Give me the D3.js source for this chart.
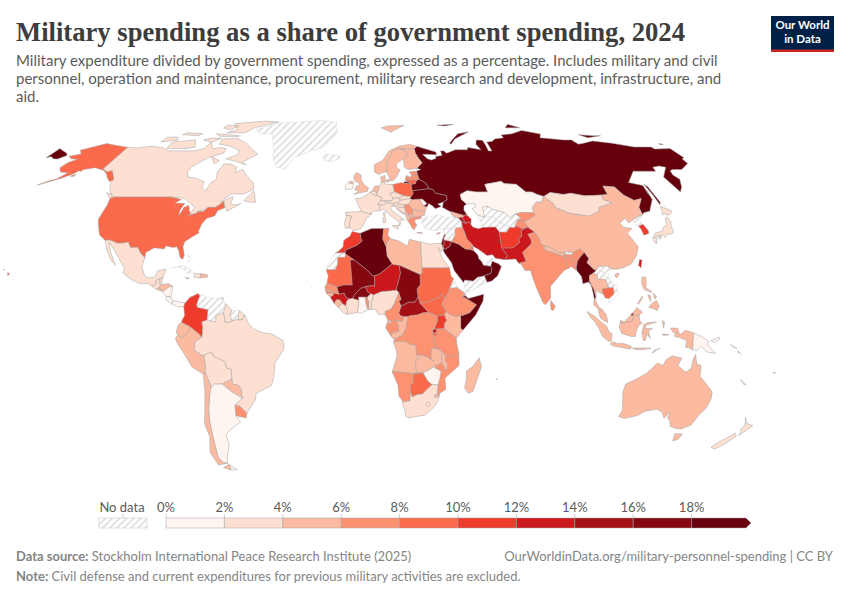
<!DOCTYPE html>
<html>
<head>
<meta charset="utf-8">
<script src="https://cdn.jsdelivr.net/npm/d3@7"></script>
<style>
  body { margin: 0; background: #fff; }
  text { font-family: Lato, sans-serif; }
</style>
</head>
<body>
<svg id="chart" width="850" height="600"></svg>
<script>
const titleText = 'Military spending as a share of government spending, 2024';
const subtitleLines = [
  'Military expenditure divided by government spending, expressed as a percentage. Includes military and civil',
  'personnel, operation and maintenance, procurement, military research and development, infrastructure, and',
  'aid.'
];
const legendStops = [0, 2, 4, 6, 8, 10, 12, 14, 16, 18, 20];
const legendLabels = ['0%', '2%', '4%', '6%', '8%', '10%', '12%', '14%', '16%', '18%'];
const binColors = ['#fff5f0', '#fee0d2', '#fcbba1', '#fc9272', '#fb6a4a', '#ef3b2c', '#cb181d', '#a50f15', '#850811', '#67000d'];

// estimated from the colour bins of the picture, null is "No data"
const countryNames = ['Russia','Kazakhstan','Uzbekistan','Turkmenistan','Kyrgyzstan','Tajikistan','Afghanistan','Pakistan','India','Bangladesh','Nepal','Bhutan','China','Mongolia','North Korea','South Korea','Japan','Taiwan','Myanmar','Thailand','Laos','Vietnam','Cambodia','Malaysia','Brunei','Indonesia','Timor','Philippines','Sri Lanka','Papua New Guinea','Australia','New Zealand','New Caledonia','Fiji','Solomon Islands',
  'Morocco','Western Sahara','Algeria','Mauritania','Mali','Niger','Tunisia','Libya','Egypt','Sudan','Chad','Central African Republic','South Sudan','Ethiopia','Eritrea','Djibouti','Somalia','Kenya','Uganda','Tanzania','Rwanda','Burundi','DR Congo','Congo','Gabon','Equatorial Guinea','Cameroon','Nigeria','Benin','Togo','Ghana','Burkina Faso','Ivory Coast','Liberia','Sierra Leone','Guinea','Guinea-Bissau','Senegal','Gambia','Angola','Zambia','Malawi','Mozambique','Zimbabwe','Namibia','Botswana','South Africa','Lesotho','Eswatini','Madagascar','Cape Verde','Mauritius',
  'Saudi Arabia','Yemen','Oman','UAE','Qatar','Kuwait','Iraq','Syria','Jordan','Israel','Lebanon','Iran','Turkey','Georgia','Armenia','Azerbaijan','Cyprus',
  'Norway','Sweden','Finland','Denmark','United Kingdom','Ireland','Iceland','France','Spain','Portugal','Belgium','Netherlands','Germany','Switzerland','Austria','Italy','Poland','Czechia','Slovakia','Hungary','Slovenia','Croatia','Bosnia','Serbia','Montenegro','Albania','North Macedonia','Greece','Bulgaria','Romania','Moldova','Ukraine','Belarus','Lithuania','Latvia','Estonia',
  'Canada','United States','Mexico','Guatemala','Belize','El Salvador','Honduras','Nicaragua','Costa Rica','Panama','Cuba','Jamaica','Haiti','Dominican Republic','Bahamas','Trinidad',
  'Colombia','Ecuador','Peru','Bolivia','Paraguay','Argentina','Chile','Uruguay','Brazil','Venezuela','Guyana','Suriname','Greenland'];
const militaryShare = [40,1.5,null,null,7,6,11,13,7,7,5,null,5,3,null,11,3,13,25,5,null,null,9,5,15,5,1,5,7,1.5,5,3,3,1,1,
  11,null,22,9,17,13,7,5,3,9,17,15,9,7,null,5,25,5,11,7,13,9,7,5,7,5,7,3,3,7,1,17,3,3,5,13,5,7,5,5,5,5,7,1,7,9,3,3,5,5,null,1,
  25,null,25,null,null,9,7,null,15,17,15,13,null,5,15,13,5,
  5,5,5,5,5,1,null,3,3,3,3,5,3,3,3,3,9,3,3,3,3,3,3,7,5,5,5,7,5,5,1,40,40,9,7,7,
  3,9,3,3,3,5,5,1,1,1,null,5,3,5,null,1,
  11,5,5,3,5,1,5,7,3,null,3,null,null];

// hand traced country outlines, "lon lat" pairs, one string per ring
const outlines = {
  'Russia': ['31 70,33 69.5,41 67.5,41 66.3,35 66.5,33 66.5,35 64.5,37 64,40 64.7,40 65.5,44 66,44 68,46 68,47 67,53 68.5,60 68.5,61 69.5,68 68.5,67 71,69 73,72.5 72.8,72.5 71,72 68,74 68,74.5 72,78 72.3,81 73.5,87 74,87 75.3,95 76,104 77.7,113 75.8,110 74,113 73.8,123 73,128 73,129 71,133 71.5,140 72.5,150 71.5,160 69.7,170 69.7,170.5 68.8,179.9 69,179.9 65,178 64.5,177.5 62.5,170 60,165 60,163 59.5,162 57.8,163 56,160 53,157 51,156 57,163 61,160 61.5,156 61,155 59.3,143 59.3,135 54.7,141 53.5,140 50,141 52,140 48,135 43.5,132 43,130.7 42.3,131 45,135 48.4,131 47.7,127.5 49.8,126 53,120.5 53.3,119.8 50,116.7 49.8,113 49.6,108 49.5,102 50.5,98 50,92 50.8,87.8 49.2,85 50,83 51,80 51,77 54,71 54.3,70 55.2,61 54,61 51,55 51,51 51.5,47 50,47 48,49 46.3,47.5 45.5,47 44,48 42,46 42,40 43.5,37 45,38 47.1,40 48,40 49.6,35 50.5,34 52,31.5 52.3,32 53,31 54.5,28 56,27.7 57.5,27.5 59.4,30 60,28 60.5,31.5 62.8,30 65,29 67,29 69',
    '-179.9 65,-178 65.5,-175 64.5,-172.5 64.4,-170 66,-172 67,-176 68,-179.9 69','20 55,22.8 55,22.8 54.4,19.8 54.4','52 71,56 73.5,68 77,60 76,54 73,51.5 71.5','50 80.5,62 81,55 80','95 79,105 79,100 81','137 75.5,145 75,150 75,140 74','178 71.3,179.9 71,179.9 70.9,178 70.9','142 54,143 53,143 47,142 46,142 50'],
  'Kazakhstan': ['49 46.3,47 48,47 50,51 51.5,55 51,61 51,61 54,70 55.2,71 54.3,77 54,80 51,83 51,85 50,87.8 49.2,85.5 47,83 47,80 45,80 42.9,74 43,71 42.5,68 41,66 43,61 44.2,58.5 45.5,56 45,56 41.3,53 42,52.5 42.8,51 44.5,53 45.2,53 46.5'],
  'Uzbekistan': ['56 45,58.5 45.5,61 44.2,66 43,68 41,71 42.5,73 40.8,71 40.2,68.5 37.2,66.5 37.4,62 39.5,60 41.5,57 41.3,56 41.3'],
  'Turkmenistan': ['53 42,56 41.3,57 41.3,60 41.5,62 39.5,66.5 37.4,64.5 35.5,61.2 35.6,60 37.5,54 37.3,53.8 39.5,53 40'],
  'Kyrgyzstan': ['80 42.9,74 43,71 42.5,73 40.8,71 40.2,73.8 39.5,76.5 40.4,80 42'],
  'Tajikistan': ['68.5 37.2,71 40.2,73.8 39.5,75 38,74.9 37.4,72 36.9,70 37.8'],
  'Afghanistan': ['61.2 35.6,64.5 35.5,66.5 37.4,68.5 37.2,70 37.8,72 36.9,74.9 37.4,71.5 36.3,71 34,69.3 33,69.5 31.7,66.5 29.9,66 29.5,61 29.5,60.9 31.5'],
  'Pakistan': ['74.9 37.4,71.5 36.3,71 34,69.3 33,69.5 31.7,66.5 29.9,66 29.5,61 29.5,63 26.6,61.6 25.1,66.5 25.4,67.5 23.8,71 24.4,70 27.9,74.5 31,75 32.5,74 34.7,77.5 35.5'],
  'India': ['77.5 35.5,74 34.7,75 32.5,74.5 31,70 27.9,71 24.4,67.5 23.8,68.5 23.5,70 21,72.5 21,72.8 19,74 15,76.5 9,77.5 8,80 10.5,80.3 15,82.5 17,87 21,89 21.8,88.3 24.5,88.3 26,89.8 26,92.3 25,91.3 23.5,92.3 23,92.6 22,93.5 24.5,95 26,97.3 27.8,96 29.3,92 27.8,92 27,89 27,88.2 27.9,88.1 26.4,80 28.8,80.3 30.3,78.7 31.2,79 32.5'],
  'Bangladesh': ['89 21.8,88.3 24.5,88.3 26,89.8 26,92.3 25,91.3 23.5,92.3 23,92.6 22,92 21.2,90.5 22.5'],
  'Nepal': ['80 28.8,88.1 26.4,88.2 27.9,86 28,81.5 30.3,80.3 30.3'],
  'Bhutan': ['89 27,92 27,92 27.8,90 28.2,89 27.8'],
  'China': ['130.7 42.3,131 45,135 48.4,131 47.7,127.5 49.8,126 53,120.5 53.3,119.8 50,116.7 49.8,116 48,119.5 46.8,112 45,111 43.5,105 41.7,97 42.7,91 45,91 46.5,87.8 49.2,85.5 47,83 47,80 45,80 42.9,80 42,76.5 40.4,73.8 39.5,75 38,74.9 37.4,77.5 35.5,79 32.5,78.7 31.2,80.3 30.3,81.5 30.3,86 28,88.2 27.9,89 27.8,90 28.2,92 27.8,96 29.3,97.3 27.8,98.7 25.5,97.5 24,100 21.5,101 21,102.2 22.4,106 22.8,108 21.6,110 21.5,113 22,117 23.5,120 26.5,122 30,120.5 33,119.3 35,122.5 37,119 37.3,118 39,121.5 40.8,122 39,124.3 40,128 41.5',
    '108.7 19.3,110.5 20.1,110.9 19.6,109.5 18.2'],
  'Mongolia': ['87.8 49.2,92 50.8,98 50,102 50.5,108 49.5,113 49.6,116.7 49.8,116 48,119.5 46.8,112 45,111 43.5,105 41.7,97 42.7,91 45,91 46.5'],
  'North Korea': ['130.7 42.3,128 41.5,124.3 40,125 38.5,126 37.8,128.4 38.5,127.5 39.8,129.7 41'],
  'South Korea': ['126 37.8,128.4 38.5,129.5 36,129 35,126.5 34.4,126.5 36.5'],
  'Japan': ['130.9 34,132 35.2,136 36,137 37.3,139.5 38.5,140 40.5,141.4 41.4,142 39.5,141 38,140.8 35.8,139.8 35,137 34.6,135.8 33.5,135 34.5,131 33.9','140 42,141.7 45.4,145 44,145.5 43.3,143 42,141 42.5','130 33.5,131.8 33.5,131 31.3,130.2 31.3','132.5 33.8,134.5 34.2,134 33.4,133 32.8'],
  'Taiwan': ['121 25.2,122 25,120.9 22,120.1 23'],
  'Myanmar': ['92.6 22,93.5 24.5,95 26,97.3 27.8,98.7 25.5,97.5 24,100 21.5,101 21,100 20.3,97.8 19,97.5 17,99 14,99.6 11,98.7 10,98.6 12,98 15.5,97 16.7,94.5 16,94.3 18.7,92.6 21'],
  'Thailand': ['100 20.3,100.5 19.5,101.2 19.5,101 17.5,102.5 17.9,104.7 17.4,105.5 14.5,102.5 14,102.9 12,101 12.7,100.5 13.5,100 13.5,99.3 9.5,100.5 7.3,102 6.2,101 5.6,100.2 6.5,98.3 8,98.7 10,99.6 11,99 14,97.5 17,97.8 19'],
  'Laos': ['101 21,102.2 22.4,103 21,104.5 20.4,104 19.2,106 17.5,107.5 15.5,107.5 14.5,105.5 14.5,104.7 17.4,102.5 17.9,101 17.5,101.2 19.5,100.5 19.5,100 20.3'],
  'Vietnam': ['102.2 22.4,106 22.8,108 21.6,105.8 19,107 17,109 15,109.3 12,107 10.5,105 8.7,105 10.4,106 11,107.5 12.3,107.5 14.5,107.5 15.5,106 17.5,104 19.2,104.5 20.4,103 21'],
  'Cambodia': ['102.5 14,105.5 14.5,107.5 14.5,107.5 12.3,106 11,105 10.4,103.5 10.6,102.9 12'],
  'Malaysia': ['100.2 6.5,101 5.6,102 6.2,103.4 4.5,104.2 1.5,103.4 1.4,101 3,100.3 5.5','109.6 2,111.2 1.6,113 3.2,114.5 4.6,115.2 5,116.8 7,119.2 5.2,117.7 4.2,115.5 4,114.5 1.7,112.5 1.5,110 0.9'],
  'Brunei': ['114.2 4.5,115.2 5,115 4,114.3 4'],
  'Indonesia': ['95.3 5.5,98 4,100 2.5,103.5 0,104.5 -2,106 -3,105.8 -5.8,104.5 -5.8,102 -4,100.3 -1,98.5 1.7,97 3','105.3 -6.8,106.5 -6,108.5 -6.7,110.8 -6.5,114.5 -7.7,114.5 -8.7,110.5 -8.2,106.5 -7.5','109.6 2,110 0.9,112.5 1.5,114.5 1.7,115.5 4,117.7 4.2,117.8 2,119 1,117.5 0.5,116.5 -1.5,116 -4,114.5 -4,111.7 -3.3,110.2 -2.9,109 -0.5','119.5 0.5,121 1.2,125 1.5,120.5 0.3,120 -0.8,121.5 -0.9,123.3 -0.9,121.5 -2,122.5 -4.7,121 -3,120.3 -5.5,119.5 -5.5,118.8 -2.7','115 -8.4,116.5 -8.3,119 -8.3,123 -8.4,120 -8.9,116.5 -8.9','123.6 -10.3,124.9 -9,125 -9.5','127.5 -3,130.5 -3.3,128 -3.6','127.5 2,128.5 1.5,128 -0.8,127.8 0.5','131 -0.8,134 -0.8,135 -3.3,137.5 -1.6,141 -2.6,141 -9.1,139 -8,138 -8.3,138 -5.5,135 -4.4,133 -4,132.8 -2.9,134 -2.5,132 -2.3'],
  'Timor': ['124.9 -9,127 -8.4,125 -9.5'],
  'Philippines': ['120.5 18.5,122.2 18.5,122 16,121.5 14.5,124 13,123.5 12.8,120.7 13.8,120 16','122 7,123.5 8.6,125.5 9.7,126.5 7.5,125.5 5.8,124 6.5','124.5 12.5,125.7 11,125 10.2,124.5 11','122 11.8,123.2 11.5,123 9.2,122.5 10','117.3 8.5,119.5 11.3,119.5 10.5,117.7 8.3'],
  'Sri Lanka': ['80 9.7,81.8 7.5,81 6,80 6.2,79.8 8'],
  'Papua New Guinea': ['141 -2.6,145 -4.3,147.8 -6,147 -6.8,150.8 -10.3,147 -9.8,144.5 -7.7,143 -9.2,141 -9.1','148.5 -5.6,152 -4.2,152.2 -5,150 -6.2'],
  'Australia': ['114.2 -22,113.6 -25,114.6 -28.5,115.7 -32,115 -34.3,118 -35,123.5 -33.9,126 -32.3,131 -31.5,134 -32.7,135.8 -34.8,137.8 -32.7,137.5 -35,139 -35.7,140.6 -38,143.5 -38.8,146.4 -39,150 -37.5,151 -34,153 -31,153.5 -27.5,153 -25,149.5 -22,146 -19,145.5 -15,143.5 -14.3,142.5 -10.8,141.6 -13,141.5 -16,139.5 -17.5,135.5 -15,136.8 -12.2,132.5 -11.3,130 -12.8,129 -15,126.5 -14,124 -16.5,122.3 -18,118 -20.3','144.7 -40.7,148.3 -40.9,148 -43,146 -43.6'],
  'New Zealand': ['172.7 -34.5,175.3 -37,178.5 -37.7,177 -39.5,175.3 -41.6,175 -40,174 -39,174.8 -37.5','172.7 -40.5,174.3 -41.7,172.8 -43.7,171 -45.5,169 -46.7,166.5 -46,168.3 -44,171.2 -42'],
  'New Caledonia': ['164 -20.2,167 -22.3,166 -22.2'],
  'Fiji': ['177.3 -17.5,178.6 -17.6,178 -18.2'],
  'Solomon Islands': ['157 -7,160 -8.5,159 -8.3','160.5 -9.3,162 -10.5,160.5 -9.9'],

  'Morocco': ['-5.9 35.8,-6.8 34,-9.5 32.5,-9.8 30,-11.5 28.5,-13 27.7,-8.7 27.7,-8.7 28.7,-3.7 30.5,-1.2 32.2,-1.7 33,-2.2 35.1'],
  'Western Sahara': ['-13 27.7,-8.7 27.7,-8.7 26,-12 26,-12 23.4,-13 21.3,-17 21.3,-16 23.7,-14.5 26'],
  'Algeria': ['-2.2 35.1,3 36.9,8.6 36.9,8 33,9.5 30,9.8 26.5,12 23.5,6 19.5,4.2 19,3.2 19,1.2 21,-4.8 25,-8.7 27.3,-8.7 28.7,-3.7 30.5,-1.2 32.2,-1.7 33'],
  'Mauritania': ['-17 21.3,-13 21.3,-12 23.4,-12 26,-8.7 26,-8.7 27.3,-4.8 25,-6.5 25,-5.5 15.5,-9.3 15.5,-12.2 14.8,-16.5 16.2,-16 19'],
  'Mali': ['-6.5 25,-4.8 25,1.2 21,3.2 19,4.2 19,4.2 15,3.5 15.3,0.2 14.9,-2 14.2,-4.4 12,-5.3 10.4,-7 10.2,-8.3 11,-9 12.4,-11.3 12,-12.2 14.8,-9.3 15.5,-5.5 15.5'],
  'Niger': ['4.2 19,6 19.5,12 23.5,15 23,15.5 20,13.6 14,13.6 13.5,10 13.2,7 13,3.7 11.7,2.4 12.2,1 13,0.2 14.9,3.5 15.3,4.2 15'],
  'Tunisia': ['8.6 36.9,11 37,10.3 34.5,11.5 33.1,10 32,9.5 30,8 33'],
  'Libya': ['9.5 30,10 32,11.5 33.1,15 32.3,19 30.3,20 32.8,25 31.8,25 22,25 20,24 19.5,15 23,12 23.5,9.8 26.5'],
  'Egypt': ['25 31.8,29 31,32 31.2,34.3 31.3,34.9 29.5,34 28,32.6 29.9,34 26,37 22,25 22'],
  'Sudan': ['25 22,37 22,37.5 18.8,38.5 18,36.6 14.3,36 12.5,34.2 10.5,33 12.2,32.3 11,28 9.4,26.5 9,23.6 8.7,22.9 11,22.5 14,24 15.7,24 19.5,25 20'],
  'Chad': ['15 23,24 19.5,24 15.7,22.5 14,22.9 11,21.5 9,18.7 9,15.5 7.5,14.5 9.5,15.5 10,14.5 12.8,13.6 13.5,13.6 14,15.5 20'],
  'Central African Republic': ['14.5 5,15.5 7.5,18.7 9,21.5 9,22.9 11,23.6 8.7,27.4 5.1,25 5,22.5 4.2,19 3.8,18.5 3.5,16.5 3.5,15 4'],
  'South Sudan': ['23.6 8.7,26.5 9,28 9.4,32.3 11,33 12.2,34.2 10.5,33 8,35 5.5,34 4.2,31 3.7,27.4 5.1'],
  'Ethiopia': ['36.6 14.3,39.8 14.5,43 12.5,43.3 11.5,42 11,43 10.8,48 8,45 5,42 4,41 3.9,39 3.4,36 4.5,35 5.5,33 8,34.2 10.5,36 12.5'],
  'Eritrea': ['38.5 18,39.5 15.5,43 12.5,39.8 14.5,36.6 14.3'],
  'Djibouti': ['43 12.5,43.3 11.5,42 11'],
  'Somalia': ['43.3 11.5,44.5 10.4,51.2 12,50.8 9.5,47.5 4.2,42 -1.6,41 -0.9,41 3.9,42 4,45 5,48 8,43 10.8,42 11'],
  'Kenya': ['34 4.2,35 5.5,36 4.5,39 3.4,41 3.9,41 -0.9,42 -1.6,39.2 -4.7,37.7 -3.5,33.9 -1,34 1,35 2'],
  'Uganda': ['31 3.7,34 4.2,35 2,34 1,33.9 -1,30.5 -1.1,29.6 -1.3,31 1.8'],
  'Tanzania': ['33.9 -1,37.7 -3.5,39.2 -4.7,39.5 -7,40.4 -10.4,38 -11.3,34.9 -11.5,33 -9.5,31 -8.6,29.5 -6,29.5 -4.4,30.8 -3.3,30.8 -2.4,30.5 -1.1'],
  'Rwanda': ['29 -1.3,29.6 -1.3,30.5 -1.1,30.8 -2.4,29 -2.7'],
  'Burundi': ['29 -2.7,30.8 -2.4,30.8 -3.3,29.5 -4.4'],
  'DR Congo': ['27.4 5.1,31 3.7,31 1.8,29.6 -1.3,29 -1.3,29 -2.7,29.5 -4.4,29.5 -6,31 -8.6,29 -8.5,28.5 -9,28.5 -12,29.8 -13.4,27 -11.8,24 -11,22 -11,22 -9.5,21.8 -7.3,19.5 -7,17.5 -6,13 -5.9,12.2 -6,13 -4.7,16 -3.5,17.7 -0.5,18 2,18.5 3.5,19 3.8,22.5 4.2,25 5'],
  'Congo': ['11.2 -3.9,12.2 -5,13 -4.7,16 -3.5,17.7 -0.5,18 2,18.5 3.5,16.5 3.5,16 1.8,13.3 2.2,14 1.4,14.5 -2,11.7 -2.5'],
  'Gabon': ['9.5 1,11.3 1,11.3 2.2,13.3 2.2,14 1.4,14.5 -2,11.7 -2.5,11.2 -3.9,8.8 -0.7'],
  'Equatorial Guinea': ['9.8 2.3,11.3 2.2,11.3 1,9.5 1'],
  'Cameroon': ['8.5 4.5,9.8 2.3,11.3 2.2,13.3 2.2,16 1.8,16.5 3.5,15 4,14.5 5,15.5 7.5,14.5 9.5,15.5 10,14.5 12.8,14 11.5,12.5 8.5,11.3 6.5,8.8 5.7'],
  'Nigeria': ['2.7 6.3,4.5 6.3,5.5 4.6,6.5 4.3,8.5 4.5,8.8 5.7,11.3 6.5,12.5 8.5,14 11.5,14.5 12.8,13.6 13.5,10 13.2,7 13,3.7 11.7,2.8 9'],
  'Benin': ['1.6 6.2,2.7 6.3,2.8 9,3.7 11.7,2.4 12.2,0.9 10.9,1.6 9'],
  'Togo': ['1.2 6.1,1.6 6.2,1.6 9,0.9 10.9,0 11,0.5 8'],
  'Ghana': ['-3.1 5.1,-2 4.7,1.2 6.1,0.5 8,0 11,-2.8 11,-2.7 8,-3.2 6'],
  'Burkina Faso': ['0.2 14.9,1 13,2.4 12.2,0.9 10.9,0 11,-2.8 11,-2.8 9.7,-5.3 10.4,-4.4 12,-2 14.2'],
  'Ivory Coast': ['-7.5 4.4,-3.1 5.1,-3.2 6,-2.7 8,-2.8 9.7,-5.3 10.4,-7 10.2,-8 9.4,-8.3 7.7,-7.5 5.8'],
  'Liberia': ['-11.4 6.9,-9.3 5,-7.5 4.4,-7.5 5.8,-8.3 7.7,-9.5 8.4,-10.6 8.3'],
  'Sierra Leone': ['-13.2 8.5,-11.4 6.9,-10.6 8.3,-9.5 8.4,-11 10,-12.5 9.9'],
  'Guinea': ['-15 11,-13.2 8.5,-12.5 9.9,-11 10,-9.5 8.4,-8.3 7.7,-8 9.4,-7 10.2,-8.3 11,-9 12.4,-11.3 12,-13.7 12.6,-13.7 11.7'],
  'Guinea-Bissau': ['-16.7 12.3,-15 11,-13.7 11.7,-13.7 12.6'],
  'Senegal': ['-17.4 14.7,-16.7 12.3,-13.7 12.6,-11.3 12,-12.2 14.8,-16.5 16.2'],
  'Gambia': ['-16.8 13.6,-14 13.6,-14 13.2,-16.8 13.2'],
  'Angola': ['12.2 -6,13 -5.9,17.5 -6,19.5 -7,21.8 -7.3,22 -9.5,22 -11,24 -11,22 -13,22 -16.2,23.4 -17.6,20.8 -18,14.5 -17.4,11.8 -17.3,13.5 -12.5,13.8 -10.7,13 -8'],
  'Zambia': ['22 -13,24 -11,27 -11.8,29.8 -13.4,28.5 -12,28.5 -9,29 -8.5,31 -8.6,33 -9.5,33 -12,33.2 -14,30.2 -15.3,28 -16.5,25.2 -17.8,23.4 -17.6,22 -16.2'],
  'Malawi': ['33 -9.5,34.9 -11.5,34.5 -13,35.8 -14.5,35.8 -16,35 -17,34.4 -15.5,33.2 -14,33 -12'],
  'Mozambique': ['40.4 -10.4,40.7 -15,37 -18,34.9 -19.8,35.5 -24,33 -25.5,32.8 -26.8,32 -26,31.9 -25,32 -22.3,32.8 -19,33 -17,30.4 -16,30.2 -15.3,33.2 -14,34.4 -15.5,35 -17,35.8 -16,35.8 -14.5,34.5 -13,34.9 -11.5,38 -11.3'],
  'Zimbabwe': ['25.2 -17.8,28 -16.5,30.2 -15.3,30.4 -16,33 -17,32.8 -19,32 -22.3,29.4 -22.2,27.5 -21,25.7 -18.5'],
  'Namibia': ['11.8 -17.3,14.5 -17.4,20.8 -18,23.4 -17.6,25.2 -17.8,21 -18.3,21 -22,20 -22,20 -28.4,17 -28.8,15 -26.5,14.5 -22.5'],
  'Botswana': ['21 -18.3,25.2 -17.8,25.7 -18.5,27.5 -21,29.4 -22.2,26.5 -24.7,25.5 -25.7,22.8 -26,20.8 -26.9,20 -24.8,20 -22,21 -22'],
  'South Africa': ['17 -28.8,20 -28.4,20 -24.8,20.8 -26.9,22.8 -26,25.5 -25.7,26.5 -24.7,29.4 -22.2,32 -22.3,31.9 -25,32 -26,32.8 -26.8,32.5 -28.5,30.5 -31,27 -33.8,25 -34,20 -34.8,18.4 -34.2,18 -32,16.5 -29'],
  'Lesotho': ['27 -29.8,28.5 -28.7,29.3 -29.8,28 -30.7'],
  'Eswatini': ['30.8 -26,32 -26,32 -27,31 -27.2'],
  'Madagascar': ['49.3 -12,50.5 -15.5,47.5 -24.8,45.5 -25.5,43.7 -23.4,44.3 -20,44 -17,46.5 -15.5'],
  'Cape Verde': ['-25.3 17.1,-24.9 16.9,-25.2 16.8','-23.7 15.3,-23.4 15,-23.7 14.9'],
  'Mauritius': ['57.3 -20,57.8 -20,57.6 -20.5'],

  'Saudi Arabia': ['34.9 29.5,36 29.2,37.5 30,38 30.5,39 32,42 31,44.7 29.2,46.5 29.1,48.4 28.5,50 26.8,50.2 25.5,51.2 24.5,52 23,55.1 22.6,55.7 22,55 20,52 19,49 18.5,47 17,43.3 17.4,42.8 16.4,39 21,38 24,35 28'],
  'Yemen': ['42.8 16.4,43.3 17.4,47 17,49 18.5,52 19,53 16.6,45 12.9,43.5 12.7'],
  'Oman': ['52 19,55 20,55.7 22,55.1 22.6,56 24.5,58.6 23.6,59.8 22.5,57.8 19,55 17,53 16.6'],
  'UAE': ['51.2 24.5,52 23,55.1 22.6,56 24.5,56.3 26,54 24.2'],
  'Qatar': ['50.8 24.8,51.6 25,51.3 26.1,50.8 25.8'],
  'Kuwait': ['46.5 29.1,48.4 28.5,48 30,47.7 30.1'],
  'Iraq': ['42 37.2,44.8 37.2,45.5 35.5,46 33,48 31,48.6 30,48 30,47.7 30.1,46.5 29.1,44.7 29.2,42 31,39 32,41 34.5,41.2 36.5'],
  'Syria': ['36 36.8,42 37.2,41.2 36.5,41 34.5,39 32,36.5 32.4,35.6 32.7,35.7 33.3,36.5 34.5,36 34.6'],
  'Jordan': ['34.9 29.5,36 29.2,37.5 30,38 30.5,39 32,36.5 32.4,35.6 32.7,35.5 31.5'],
  'Israel': ['34.3 31.3,34.9 29.5,35.5 31.5,35.6 32.7,35.7 33.3,35.1 33.1'],
  'Lebanon': ['35.1 33.1,35.7 33.3,36.5 34.5,36 34.6'],
  'Iran': ['44.8 39.7,46.5 38.9,48 39.5,48.9 38.4,49.5 37.5,52 36.8,54 37.3,60 37.5,61.2 35.6,60.9 31.5,61 29.5,63 26.6,61.6 25.1,57.5 25.7,56.5 27,54 26.7,50.8 28.9,48.6 30,48 31,46 33,45.5 35.5,44.8 37.2'],
  'Turkey': ['26.2 39.5,27.3 37,29 36.5,32 36.1,36 36.8,42 37.2,44.8 37.2,44.8 39.7,43.6 41,41.5 41.5,38 41,35 42,33 42,30 41.2,27 40.5','26 40.7,26.3 41.7,28.1 42,29 41.2,26.5 40.3'],
  'Georgia': ['40 43.5,46 42,46.5 41.5,45.5 41.2,43.6 41,41.5 41.5'],
  'Armenia': ['43.6 41,45.5 41.2,46.5 38.9,44.8 39.7'],
  'Azerbaijan': ['45.5 41.2,46.5 41.5,46 42,48 42,49.5 40.5,48.9 38.4,48 39.5,46.5 38.9'],
  'Cyprus': ['32.3 35,34.5 35.6,33.5 34.7'],

  'Norway': ['5 61.5,5 59,7 58,10.5 59,11.5 59,12.3 61,12 63.5,14 65,16 68,20 69,25 68.7,29 69,31 70,27 71,20 70,14 68,10 64,5 62','11 79,16 80,27 80.3,20 78,17 76.7,14 78'],
  'Sweden': ['11.5 59,12.8 56.5,13 55.4,14.5 55.5,16.5 57,18.8 59.8,17 61,17.5 62.5,21.5 64.5,24 65.8,23.7 68,20 69,16 68,14 65,12 63.5,12.3 61'],
  'Finland': ['24 65.8,21.5 64.5,21.3 61,23 60,28 60.5,31.5 62.8,30 65,29 67,29 69,25 68.7,20 69,23.7 68'],
  'Denmark': ['8.2 57,10.5 57.6,10.5 55,9.5 54.8,8.5 54.8','11 55.7,12.5 56,12.3 54.9,11 55'],
  'United Kingdom': ['-5.5 50,-3 50.6,1.2 51.2,1.7 52.7,0 53.5,-1.5 55,-2 56,-2 57.6,-3.5 58.6,-5 58.6,-6 56.5,-4.8 55,-3 54.7,-3 53.3,-4.5 53.3,-5 51.8,-3 51.4','-8 54.3,-6 54.3,-5.6 54.7,-6.5 55.2,-7.3 55.2'],
  'Ireland': ['-10 52,-6.3 52.2,-6 53.5,-6 54.3,-8 54.3,-7.3 55.2,-8.5 55,-10 53.5'],
  'Iceland': ['-24 65.5,-22 66.4,-18 66.2,-14.5 66,-14 64.7,-18.5 63.4,-22.7 63.8'],
  'France': ['-1.8 43.4,-4.6 48.4,-1.5 48.7,1.5 50.2,2.5 51,4.2 50,6 49.5,8.2 49,7.6 47.5,6 46.2,7 45.9,7 44.2,7.5 43.8,4 43.5,3 43,3.2 42.4,0.7 42.8','8.6 42.9,9.5 43,9.4 41.5,8.9 41.5','-54 5.8,-51.6 4.2,-52.7 2.3,-54.5 2.3'],
  'Spain': ['-9.2 43.1,-1.8 43.4,0.7 42.8,3.2 42.4,0.5 40.5,-0.3 39,-2 36.8,-5.3 36.1,-6.4 37,-7.4 37.2,-7 39.6,-6.3 41.6,-8.8 41.9'],
  'Portugal': ['-8.8 41.9,-6.3 41.6,-7 39.6,-7.4 37.2,-9 37,-9.5 38.8'],
  'Belgium': ['2.5 51,4.2 51.4,6 50.8,6 49.5,4.2 50'],
  'Netherlands': ['3.5 51.4,4.2 51.4,6 50.8,7 52.2,7 53.3,5 53.3'],
  'Germany': ['6 50.8,7 52.2,7 53.3,8.5 54.8,9.5 54.8,11 54,14.2 53.9,14.7 51,12.2 50.3,13.8 48.7,13 47.5,9.6 47.5,7.6 47.5,8.2 49,6 49.5'],
  'Switzerland': ['7.6 47.5,9.6 47.5,10.4 46.8,9 45.9,7 45.9,6 46.2'],
  'Austria': ['9.6 47.5,13 47.5,13.8 48.7,17 48.7,17 47.7,16 46.8,13.7 46.5,10.4 46.8'],
  'Italy': ['7 45.9,9 45.9,10.4 46.8,13.7 46.5,13.6 45.6,12.3 45.3,12.5 44,16 41.8,18.4 40.1,17 40.5,16.5 39,16 38,15.8 39.5,12.5 41.5,10.5 43,8.8 44.4,7.5 43.8,7 44.2','12.5 38,15.6 38.2,15 36.7','8.3 40.9,9.7 41,9.5 39.2,8.5 39'],
  'Poland': ['14.2 53.9,18.5 54.7,19.8 54.4,22.8 54.4,23.5 54,23.6 51.5,24 50.5,22.6 49.1,19 49.5,14.7 51'],
  'Czechia': ['12.2 50.3,14.7 51,19 49.5,17 48.7,13.8 48.7'],
  'Slovakia': ['17 48.7,19 49.5,22.6 49.1,22.1 48.4,17 47.7'],
  'Hungary': ['17 47.7,22.1 48.4,22.9 48,21 46.2,18.8 45.9,16.5 46.3,16 46.8'],
  'Slovenia': ['13.7 46.5,16 46.8,16.5 46.3,15.3 45.5,13.6 45.6'],
  'Croatia': ['13.6 45.6,15.3 45.5,16.5 46.3,18.8 45.9,19 44.9,16 45.1,15.8 44.5,18.5 42.5,16 43.5,14.5 45.2'],
  'Bosnia': ['16 45.1,19 44.9,19.3 43.5,18.5 42.5,15.8 44.5'],
  'Serbia': ['19 44.9,18.8 45.9,21 46.2,22.7 44.3,22.5 42.3,20.5 42.2,20.5 42.6,19.3 43.5'],
  'Montenegro': ['18.5 42.5,19.3 43.5,20.5 42.6,19.3 41.9'],
  'Albania': ['19.3 41.9,20.5 42.6,20.5 42.2,21 40.8,20 39.7,19.3 40.5'],
  'North Macedonia': ['20.5 42.2,22.5 42.3,23 41.3,21 40.8'],
  'Greece': ['20 39.7,21 40.8,23 41.3,26.3 41.7,26 40.7,23.5 40.3,23 39.5,24 38,23 37.4,22.8 36.5,21.7 36.9,21 38.3','23.6 35.5,26.3 35.2,24.7 35'],
  'Bulgaria': ['22.7 44.3,25 43.7,28.6 43.7,28 42,26.3 41.7,23 41.3,22.5 42.3'],
  'Romania': ['21 46.2,22.9 48,26.6 48.2,28.2 45.5,29.7 45.2,28.6 43.7,25 43.7,22.7 44.3'],
  'Moldova': ['26.6 48.2,28 48.2,30 46.5,28.2 45.5'],
  'Ukraine': ['22.1 48.4,22.6 49.1,24 50.5,23.6 51.5,31.5 52.3,34 52,35 50.5,40 49.6,40 48,38 47.1,35 46.3,36.5 45.3,33.5 44.5,32.5 45.5,30.8 46.5,29.7 45.2,28.2 45.5,30 46.5,28 48.2,26.6 48.2,22.9 48'],
  'Belarus': ['23.6 51.5,31.5 52.3,32 53,31 54.5,28 56,26.6 55.7,25.7 54.3,23.5 54'],
  'Lithuania': ['21 55.3,21 56.2,26.6 55.7,25.7 54.3,23.5 54,22.8 54.4,22.8 55'],
  'Latvia': ['21 56.2,21.7 57.6,23.2 57,24.3 57.2,24.4 57.9,27.7 57.5,28 56,26.6 55.7'],
  'Estonia': ['23.5 59,27.5 59.4,27.7 57.5,24.4 57.9,24.3 58.3'],

  'Canada': ['-141 69.6,-135 69.3,-128 70,-120 69.5,-115 68,-108 68,-100 68,-95 69,-94 72,-90 69,-85 69.5,-82 69,-81.5 67,-87 65.5,-90 64,-94 61,-94.5 59,-92.5 57,-88 56.5,-82.5 55,-82.3 52.8,-79.5 51.3,-79 54.5,-77 56,-78.5 58.8,-77.5 62.4,-73 62.2,-69.5 61,-69 58.8,-65.5 60,-62 57.5,-57 54.5,-56 52,-60 50.2,-66.5 50.2,-70 47,-65 49.2,-64.5 48.5,-65 47,-64 46,-61 46,-60 46.5,-65.5 43.5,-66.5 45,-67.5 45.5,-68.5 47.3,-70 46,-71.5 45,-75 45,-76.5 44,-79.5 43.5,-79 42.9,-82.5 42.1,-81.5 45,-84.5 46.5,-88 48.5,-95 49,-123 49,-125.5 50,-128 52,-130 54.5,-130 55.9,-135 59.5,-137.5 59,-141 60.3',
    '-59 47.7,-55.5 51.5,-53 47,-56 47','-128.3 50.7,-125 50,-123.5 48.4,-125.5 48.8','-61.5 66.5,-68 63,-65 62,-72 63.5,-78 64.5,-73.5 66,-73 68,-80 70,-88 71,-89 73.5,-80 73.7,-72 71.5,-67 69','-117 69,-105 69,-101 69.7,-105 73,-118 72','-125 72,-116 73,-118 74.3,-124.5 74.3','-90 76.5,-78 76.5,-75 79,-62 82.5,-72 83,-92 81.5,-85 78','-96 76,-80 75,-80 74.6,-92 74.7','-117 75.5,-106 75,-105 76,-116 76.5','-95 80.5,-87 80,-90 78,-96 79','-87 65.5,-81 63.7,-83 62.5','-96 73.9,-90 73.8,-94 71.8,-100 73'],
  'United States': ['-95 49,-89.5 48,-92 46.7,-87 46.5,-88 44,-87.5 41.7,-86.5 45,-84.7 45.8,-83.3 43.5,-82.5 43,-82.5 42.1,-83.4 41.7,-79 42.9,-79.5 43.3,-76.5 43.5,-75 45,-71.5 45,-70 46,-68.5 47.3,-67.5 45.5,-67 44.8,-70 43.7,-70.5 41.8,-74 40.7,-75.5 38.5,-76 35.8,-75.5 35.3,-78 33.9,-81 32,-81.3 30,-80 26.8,-80.4 25.2,-81.7 26,-82.8 28.5,-84 30,-85.5 29.7,-89 30.3,-89.5 29.2,-94 29.6,-97.3 27.8,-97.2 25.9,-99.5 27.5,-101.5 29.8,-104.5 29.6,-106.5 31.8,-108.2 31.4,-111 31.3,-114.8 32.5,-117.1 32.5,-120.5 34.5,-122.5 37.5,-124.3 40.4,-124 46.2,-124.7 48.4,-123 49',
    '-141 69.6,-141 60.3,-137.5 59,-135 59.5,-130 55.9,-131 55,-134 56.5,-136.5 58.2,-140 59.7,-146 60.8,-151 60,-151.5 59.2,-153 59.5,-154 58.3,-158 56.5,-163 54.8,-166.5 53.7,-163 55.3,-160 56.2,-157.5 58.7,-162 59,-165 60.8,-164 63,-161 64.3,-165 64.5,-168 65.6,-163 66.6,-166.5 68.3,-156.5 71.3,-150 70.5','-154.5 57.3,-152.3 58,-152.5 57.2','-156 20.2,-155 19.8,-155.6 19','-158 21.6,-157.7 21.3,-158.2 21.3'],
  'Mexico': ['-117.1 32.5,-114.8 32.5,-111 31.3,-108.2 31.4,-106.5 31.8,-104.5 29.6,-101.5 29.8,-99.5 27.5,-97.2 25.9,-97.8 22.3,-96 19,-94.5 18.2,-91.5 18.5,-90.5 21,-87 21.5,-88 18.4,-89.1 17.9,-91 17.2,-90.5 16,-92.2 15,-94.5 16.2,-97 15.9,-101.5 17.5,-105.5 20,-105.3 21.8,-109 26,-112.8 30,-114.8 31.7,-113 28,-110.5 24.5,-109.5 23,-112 25,-115 29'],
  'Guatemala': ['-92.2 15,-90.5 16,-91 17.2,-89.1 17.9,-89 15.9,-88.2 15.7,-89.3 14.4,-90.5 13.9'],
  'Belize': ['-89.1 17.9,-88 18.4,-88.3 16,-89 15.9'],
  'El Salvador': ['-90.1 13.8,-89.3 14.4,-87.8 13.9,-87.8 13.2'],
  'Honduras': ['-89.3 14.4,-88.2 15.7,-85 16,-83.2 15,-84.8 14.8,-87.5 13,-87.8 13.9'],
  'Nicaragua': ['-87.5 13,-84.8 14.8,-83.2 15,-83.7 11,-85.7 11.1'],
  'Costa Rica': ['-85.7 11.1,-83.7 11,-82.6 9.6,-83 8.3,-85.7 9.9'],
  'Panama': ['-83 8.3,-82.6 9.6,-80 9.2,-77.4 8.7,-77.9 7.3,-80.5 7.3'],
  'Cuba': ['-84.9 21.9,-80 23,-74.2 20.2,-77.7 19.9,-78 20.7,-82 22.5'],
  'Jamaica': ['-78.3 18.4,-76.3 18,-77 17.8'],
  'Haiti': ['-74.4 18.4,-74.4 19.8,-71.7 19.8,-71.7 18.2'],
  'Dominican Republic': ['-71.7 19.8,-69 19.6,-68.4 18.6,-71.7 18.2'],
  'Bahamas': ['-78.5 26.7,-77 26.5,-77.5 26','-78 25,-77.2 24.5,-77.8 24'],
  'Trinidad': ['-61.8 10.7,-61 10.8,-61 10.1,-61.8 10.1'],

  'Colombia': ['-77.4 8.7,-75.5 10.8,-72 12.3,-71.3 11.5,-72.5 8,-72 7,-67.5 6.2,-67.8 2.3,-70 1.5,-69.5 -0.5,-69.9 -4.2,-72 -2.5,-75.3 -0.1,-78.8 1.4,-77.4 4,-77.9 7.3'],
  'Ecuador': ['-78.8 1.4,-75.3 -0.1,-75.3 -1.5,-78.3 -4.7,-80.3 -3.5,-81 -2.2,-80 0.5'],
  'Peru': ['-80.3 -3.5,-78.3 -4.7,-75.3 -1.5,-75.3 -0.1,-72 -2.5,-69.9 -4.2,-73 -6,-73.5 -9,-70.5 -11,-69.5 -11,-69 -15,-69.5 -17.5,-70.4 -18.3,-75 -15.5,-77 -12,-81 -6,-81.3 -4.5'],
  'Bolivia': ['-69.5 -11,-66 -9.8,-65.3 -11.5,-60.5 -13.5,-60 -16,-58 -16.3,-58 -20,-62.5 -22,-66 -22,-67.5 -23,-69 -19,-69.5 -17.5,-69 -15'],
  'Paraguay': ['-58 -20,-62.5 -22,-60 -24,-57.7 -25.5,-54.6 -27.2,-54.3 -24,-55.7 -22.2,-58 -22'],
  'Argentina': ['-66 -22,-62.5 -22,-60 -24,-57.7 -25.5,-54.6 -27.2,-53.8 -27,-58 -30,-58.4 -34,-57 -36.5,-62 -39,-65 -41,-65 -45,-68 -50,-69 -52.3,-71 -52,-72.5 -50,-71.5 -42,-71 -36,-70 -31,-68.3 -25,-67.5 -23','-68.6 -52.7,-65.5 -54.8,-68.6 -54.9'],
  'Chile': ['-70.4 -18.3,-69.5 -17.5,-69 -19,-67.5 -23,-68.3 -25,-70 -31,-71 -36,-71.5 -42,-72.5 -50,-71 -52,-69 -52.3,-74 -53,-75.5 -48,-73 -42,-73.6 -37,-71.5 -30,-70.5 -25','-68.6 -52.7,-68.6 -54.9,-72 -54'],
  'Uruguay': ['-58.4 -34,-58 -30,-56 -30.2,-53.3 -33,-54 -34.8'],
  'Brazil': ['-60.7 5.2,-60 1.5,-58.5 1.3,-57 2,-55 2.4,-54.5 2.3,-52.7 2.3,-51.6 4.2,-50 1,-48 -1,-44 -2.5,-40 -3,-35.2 -5.5,-34.8 -7.5,-35 -9,-39 -14,-39.7 -19,-41 -22.5,-48 -25.5,-48.7 -28,-53.3 -33,-56 -30.2,-58 -30,-53.8 -27,-54.6 -27.2,-54.3 -24,-55.7 -22.2,-58 -22,-58 -20,-58 -16.3,-60 -16,-60.5 -13.5,-65.3 -11.5,-66 -9.8,-69.5 -11,-70.5 -11,-73.5 -9,-73 -6,-69.9 -4.2,-69.5 -0.5,-70 1.5,-67.8 2.3,-64 1.5,-64 4'],
  'Venezuela': ['-71.3 11.5,-72.5 8,-72 7,-67.5 6.2,-67.8 2.3,-64 1.5,-64 4,-60.7 5.2,-60 8.5,-62 10.6,-68 10.6,-70 12'],
  'Guyana': ['-60 8.5,-57.2 6,-58 4,-57 2,-58.5 1.3,-60 1.5,-60.7 5.2'],
  'Suriname': ['-57.2 6,-54 5.8,-54.5 2.3,-55 2.4,-57 2,-58 4'],
  'Greenland': ['-73 78.2,-66 80,-60 82,-45 82.5,-32 83.5,-20 82,-20 80,-18 77,-22 72,-25 69.5,-32 68,-40 65,-43 60,-48 61,-52 65,-53 68,-55 70.5,-60 76,-68 76']
};

const svg = d3.select('#chart');

// Robinson lookup table, d3 core does not ship this projection
const robLat = d3.range(0, 95, 5);
const robX = [1,.9986,.9954,.99,.9822,.973,.96,.9427,.9216,.8962,.8679,.835,.7986,.7597,.7186,.6732,.6213,.5722,.5322];
const robY = [0,.062,.124,.186,.248,.31,.372,.434,.4958,.5571,.6176,.6769,.7346,.7903,.8435,.8936,.9394,.9761,1];
const scaleRobX = d3.scaleLinear().domain(robLat).range(robX);
const scaleRobY = d3.scaleLinear().domain(robLat).range(robY);
const robinsonRaw = (lambda, phi) => {
  const deg = Math.abs(phi) * 180 / Math.PI;
  return [0.8487 * lambda * scaleRobX(deg), 1.3523 * scaleRobY(deg) * Math.sign(phi)];
};
const projection = d3.geoProjection(robinsonRaw).scale(157.5).translate([365, 326]).precision(0);
const path = d3.geoPath(projection);

const parseRing = str => {
  const ring = str.split(',').map(p => p.trim().split(' ').map(Number));
  ring.push(ring[0]);
  // d3 wants the small side inside
  if (d3.geoArea({ type: 'Polygon', coordinates: [ring] }) > 2 * Math.PI) ring.reverse();
  return [ring];
};
const features = countryNames.map((name, i) => ({
  type: 'Feature',
  properties: { name: name, share: militaryShare[i] },
  geometry: { type: 'MultiPolygon', coordinates: outlines[name].map(parseRing) }
}));

const color = d3.scaleThreshold().domain(legendStops.slice(1, -1)).range(binColors);

const defs = svg.append('defs');
const hatch = defs.append('pattern')
  .attr('id', 'hatch')
  .attr('patternUnits', 'userSpaceOnUse')
  .attr('width', 5).attr('height', 5)
  .attr('patternTransform', 'rotate(-45)');
hatch.append('rect').attr('width', 5).attr('height', 5).attr('fill', '#fff');
hatch.append('rect').attr('width', 5).attr('height', 2).attr('fill', '#e2e2e2');

// no data first so coloured borders stay on top
const sorted = features.slice().sort((a, b) => (a.properties.share === null ? 0 : 1) - (b.properties.share === null ? 0 : 1));
svg.append('g').selectAll('path')
  .data(sorted)
  .enter().append('path')
  .attr('d', path)
  .attr('fill', d => d.properties.share === null ? 'url(#hatch)' : color(d.properties.share))
  .attr('stroke', d => d.properties.share === null ? '#d8d8d8' : '#a0a0a0')
  .attr('stroke-width', 0.5)
  .attr('stroke-linejoin', 'round');

// header
svg.append('text').attr('x', 16).attr('y', 41)
  .attr('textLength', 669).attr('lengthAdjust', 'spacingAndGlyphs')
  .style('font-family', '"Liberation Serif", serif').style('font-weight', 700).style('font-size', '27px')
  .attr('fill', '#3d3d3d').text(titleText);
svg.append('g').selectAll('text')
  .data(subtitleLines)
  .enter().append('text')
  .attr('x', 16).attr('y', (d, i) => 66 + i * 18)
  .style('font-size', '15px').attr('fill', '#5b5b5b').text(d => d);

// logo
svg.append('rect').attr('x', 771).attr('y', 16).attr('width', 63).attr('height', 36).attr('fill', '#002147');
svg.append('rect').attr('x', 771).attr('y', 49.5).attr('width', 63).attr('height', 2.5).attr('fill', '#ce261e');
svg.append('g').selectAll('text')
  .data(['Our World', 'in Data'])
  .enter().append('text')
  .attr('x', 802.5).attr('y', (d, i) => 29 + i * 13.9)
  .attr('text-anchor', 'middle').attr('fill', '#fff')
  .style('font-size', '11.5px').style('font-weight', 700).text(d => d);

// legend
const legendX = d3.scaleLinear().domain([0, 20]).range([166, 750]);
const legendTop = 518, legendH = 10;
const legend = svg.append('g');
legend.append('rect').attr('x', 99).attr('y', legendTop).attr('width', 48).attr('height', legendH)
  .attr('fill', 'url(#hatch)').attr('stroke', '#c4c4c4').attr('stroke-width', 0.5);
legend.append('text').attr('x', 122).attr('y', 512).attr('text-anchor', 'middle')
  .style('font-size', '13px').attr('fill', '#5b5b5b').text('No data');
legend.append('line').attr('x1', 123).attr('x2', 123).attr('y1', 514).attr('y2', legendTop).attr('stroke', '#999').attr('stroke-width', 0.5);

legend.selectAll('.bin')
  .data(binColors)
  .enter().append('path')
  .attr('class', 'bin')
  .attr('d', (d, i) => {
    const x0 = legendX(legendStops[i]), x1 = legendX(legendStops[i + 1]);
    if (i === binColors.length - 1) {
      return `M${x0},${legendTop}H${x1 - 4}L${x1 + 1},${legendTop + legendH / 2}L${x1 - 4},${legendTop + legendH}H${x0}Z`;
    }
    return `M${x0},${legendTop}H${x1}V${legendTop + legendH}H${x0}Z`;
  })
  .attr('fill', d => d)
  .attr('stroke', '#a0a0a0').attr('stroke-width', 0.5);

legend.selectAll('.lab')
  .data(legendLabels)
  .enter().append('text')
  .attr('class', 'lab')
  .attr('x', (d, i) => legendX(legendStops[i]))
  .attr('y', 512).attr('text-anchor', 'middle')
  .style('font-size', '13px').attr('fill', '#5b5b5b').text(d => d);
legend.selectAll('.tk')
  .data(legendLabels)
  .enter().append('line')
  .attr('class', 'tk')
  .attr('x1', (d, i) => legendX(legendStops[i])).attr('x2', (d, i) => legendX(legendStops[i]))
  .attr('y1', 514).attr('y2', legendTop)
  .attr('stroke', '#999').attr('stroke-width', 0.5);

// footer
const src = svg.append('text').attr('x', 16).attr('y', 561).style('font-size', '13px').attr('fill', '#858585');
src.append('tspan').style('font-weight', 700).text('Data source:');
src.append('tspan').text(' Stockholm International Peace Research Institute (2025)');
svg.append('text').attr('x', 833).attr('y', 561).attr('text-anchor', 'end')
  .style('font-size', '13px').attr('fill', '#858585').text('OurWorldinData.org/military-personnel-spending | CC BY');
const note = svg.append('text').attr('x', 16).attr('y', 581).style('font-size', '13px').attr('fill', '#858585');
note.append('tspan').style('font-weight', 700).text('Note:');
note.append('tspan').text(' Civil defense and current expenditures for previous military activities are excluded.');
</script>
</body>
</html>
